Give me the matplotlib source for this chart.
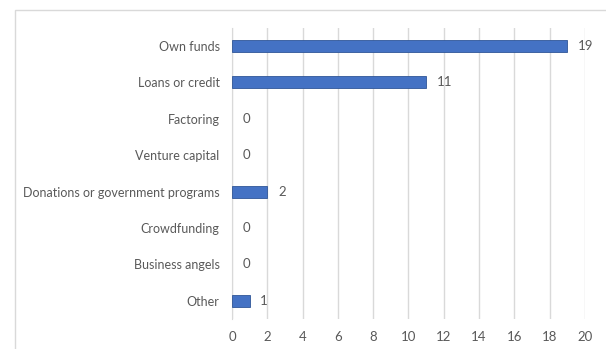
import matplotlib.pyplot as plt
from matplotlib.patches import Rectangle

plt.rcParams["font.family"] = ["Lato", "DejaVu Sans"]

# funding sources and number of responses
sources = ["Own funds", "Loans or credit", "Factoring", "Venture capital",
           "Donations or government programs", "Crowdfunding",
           "Business angels", "Other"]
counts = [19, 11, 0, 0, 2, 0, 0, 1]
x_ticks = list(range(0, 21, 2))

text_color = "#595959"
grid_color = "#d9d9d9"

fig = plt.figure(figsize=(6.06, 3.49), dpi=100)
ax = fig.add_axes([0.383, 0.086, 0.582, 0.834])

pos = list(range(len(sources)))
edges = ["#2f5597" if v > 0 else "none" for v in counts]
ax.barh(pos, counts, height=0.33, color="#4472c4", edgecolor=edges,
        linewidth=0.6, zorder=3)

for y, v in zip(pos, counts):
    ax.text(v + 0.6, y, str(v), va="center", ha="left", fontsize=9.5,
            color=text_color)

ax.set_xlim(0, 20)
ax.set_ylim(len(sources) - 0.5, -0.5)
ax.set_xticks(x_ticks)
ax.set_yticks(pos)
ax.set_yticklabels(sources)
ax.tick_params(axis="both", length=0, labelsize=9.5, labelcolor=text_color)
ax.tick_params(axis="y", pad=9, labelsize=9)
ax.tick_params(axis="x", pad=9)
ax.grid(axis="x", color=grid_color, linewidth=1, zorder=0)
for s in ["top", "right", "bottom"]:
    ax.spines[s].set_visible(False)
ax.spines["left"].set_color(grid_color)
ax.spines["left"].set_zorder(0)

# chart frame, only top and left edges fall inside the image
fig.add_artist(Rectangle((15 / 606, -0.1), 1.2, 1 - 10 / 349 + 0.1,
                         transform=fig.transFigure, fill=False,
                         edgecolor="#d9d9d9", linewidth=1))

fig.savefig("out.png", dpi=100)
